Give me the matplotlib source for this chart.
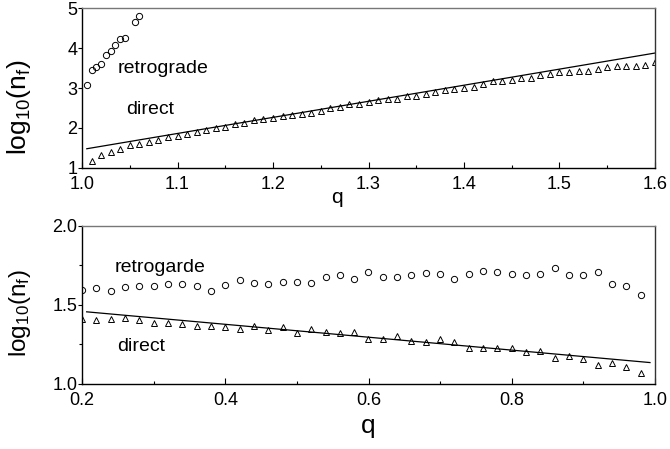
import matplotlib
matplotlib.use('Agg')
import matplotlib.pyplot as plt
from matplotlib.ticker import MultipleLocator

plt.rcParams['font.family'] = ['Liberation Sans', 'DejaVu Sans']

# upper panel: q > 1
q_retro_hi = [1.005, 1.010, 1.015, 1.020, 1.025, 1.030, 1.035, 1.040, 1.045, 1.055, 1.060]
n_retro_hi = [3.07, 3.46, 3.52, 3.61, 3.83, 3.92, 4.08, 4.23, 4.25, 4.64, 4.79]

q_direct_hi = [round(1.01 + 0.01 * i, 2) for i in range(60)]
n_direct_hi = [1.17, 1.33, 1.40, 1.48, 1.57, 1.61, 1.65, 1.69, 1.78, 1.79,
               1.86, 1.89, 1.96, 1.99, 2.03, 2.10, 2.12, 2.21, 2.23, 2.26,
               2.29, 2.33, 2.36, 2.38, 2.43, 2.49, 2.53, 2.59, 2.60, 2.64,
               2.69, 2.72, 2.72, 2.80, 2.81, 2.84, 2.91, 2.94, 2.98, 3.01,
               3.03, 3.09, 3.17, 3.17, 3.21, 3.24, 3.24, 3.33, 3.35, 3.41,
               3.41, 3.42, 3.43, 3.47, 3.52, 3.54, 3.54, 3.56, 3.58, 3.65]
fit_q_hi = [1.005, 1.60]
fit_n_hi = [1.48, 3.875]

# lower panel: q < 1
q_lo = [round(0.20 + 0.02 * i, 2) for i in range(40)]
n_retro_lo = [1.595, 1.606, 1.587, 1.610, 1.620, 1.618, 1.629, 1.635, 1.622, 1.587,
              1.627, 1.656, 1.637, 1.629, 1.644, 1.644, 1.639, 1.679, 1.690, 1.663,
              1.705, 1.679, 1.675, 1.686, 1.700, 1.698, 1.663, 1.696, 1.715, 1.705,
              1.696, 1.690, 1.696, 1.736, 1.690, 1.690, 1.707, 1.631, 1.622, 1.563]
n_direct_lo = [1.409, 1.405, 1.411, 1.418, 1.407, 1.384, 1.384, 1.380, 1.367, 1.367,
               1.359, 1.346, 1.367, 1.340, 1.361, 1.321, 1.346, 1.331, 1.321, 1.329,
               1.285, 1.283, 1.304, 1.274, 1.266, 1.283, 1.264, 1.230, 1.230, 1.226,
               1.226, 1.200, 1.205, 1.165, 1.177, 1.156, 1.120, 1.135, 1.110, 1.070]
fit_q_lo = [0.2065, 0.993]
fit_n_lo = [1.456, 1.135]

ylab = r'$\mathregular{log_{10}(n_f)}$'

fig = plt.figure(figsize=(6.7, 4.49), dpi=100)
ax1 = fig.add_axes([0.1224, 0.626, 0.8552, 0.356])
ax2 = fig.add_axes([0.1224, 0.145, 0.8552, 0.352])

mk = dict(linestyle='none', markerfacecolor='none', markeredgecolor='black',
          markeredgewidth=0.7, markersize=4.5)

ax1.plot(q_retro_hi, n_retro_hi, marker='o', **mk)
ax1.plot(q_direct_hi, n_direct_hi, marker='^', **mk)
ax1.plot(fit_q_hi, fit_n_hi, color='black', linewidth=0.9)
ax1.text(1.0377, 3.49, 'retrograde', fontsize=14, va='center')
ax1.text(1.046, 2.46, 'direct', fontsize=14, va='center')
ax1.set_xlim(1.0, 1.6)
ax1.set_ylim(1, 5)
ax1.xaxis.set_major_locator(MultipleLocator(0.1))
ax1.xaxis.set_minor_locator(MultipleLocator(0.05))
ax1.yaxis.set_major_locator(MultipleLocator(1))
ax1.set_xlabel('q', fontsize=15)
ax1.xaxis.set_label_coords(0.445, -0.125)
ax1.set_ylabel(ylab, fontsize=19)
ax1.yaxis.set_label_coords(-0.0855, 0.377)

ax2.plot(q_lo, n_retro_lo, marker='o', **mk)
ax2.plot(q_lo, n_direct_lo, marker='^', **mk)
ax2.plot(fit_q_lo, fit_n_lo, color='black', linewidth=0.9)
ax2.text(0.246, 1.735, 'retrogarde', fontsize=14, va='center')
ax2.text(0.249, 1.236, 'direct', fontsize=14, va='center')
ax2.set_xlim(0.2, 1.0)
ax2.set_ylim(1.0, 2.0)
ax2.xaxis.set_major_locator(MultipleLocator(0.2))
ax2.xaxis.set_minor_locator(MultipleLocator(0.1))
ax2.yaxis.set_major_locator(MultipleLocator(0.5))
ax2.yaxis.set_minor_locator(MultipleLocator(0.25))
ax2.set_xlabel('q', fontsize=19)
ax2.xaxis.set_label_coords(0.5, -0.19)
ax2.set_ylabel(ylab, fontsize=17.5)
ax2.yaxis.set_label_coords(-0.0855, 0.446)

for ax in (ax1, ax2):
    ax.tick_params(axis='x', which='major', direction='in', length=4, width=0.8,
                   labelsize=13, pad=6)
    ax.tick_params(axis='x', which='minor', direction='in', length=2.5, width=0.8)
    ax.tick_params(axis='y', which='major', direction='out', length=3, width=0.8,
                   labelsize=13, pad=0.5)
    ax.tick_params(axis='y', which='minor', direction='out', length=2.5, width=0.8)
    for side in ('left', 'bottom'):
        ax.spines[side].set_linewidth(1.0)
    ax.spines['right'].set_linewidth(1.0)
    ax.spines['right'].set_color('#333333')
    ax.spines['top'].set_linewidth(1.0)
    ax.spines['top'].set_color('#777777')

fig.savefig('out.png', dpi=100)
